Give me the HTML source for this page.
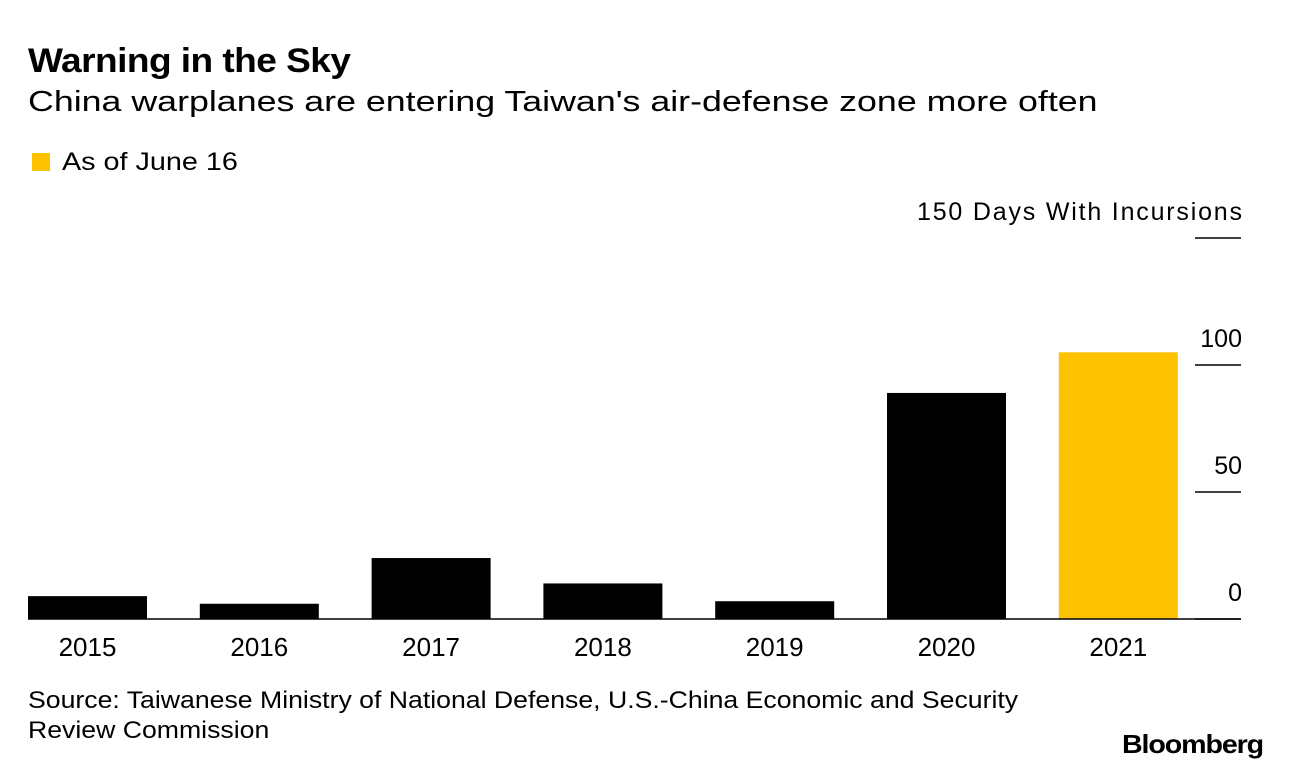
<!DOCTYPE html>
<html><head><meta charset="utf-8"><style>
body{margin:0;background:#fff;font-family:"Liberation Sans",sans-serif;color:#000;width:1289px;height:770px;overflow:hidden;position:relative}
.t{position:absolute;white-space:nowrap;transform-origin:0 0}
</style></head><body>
<div class="t" style="left:28px;top:42px;font-size:34px;font-weight:bold;letter-spacing:-0.5px;transform:scaleX(1.09)">Warning in the Sky</div>
<div class="t" style="left:28px;top:86px;font-size:29px;transform:scaleX(1.233)">China warplanes are entering Taiwan's air-defense zone more often</div>
<div class="t" style="left:32px;top:153px;width:18px;height:18px;background:#fcc200"></div>
<div class="t" style="left:62px;top:148px;font-size:25px;transform:scaleX(1.15)">As of June 16</div>
<svg id="c" width="1289" height="770" style="position:absolute;left:0;top:0"></svg>
<div class="t" style="left:28px;top:686px;font-size:24px;line-height:30px;transform:scaleX(1.11)">Source: Taiwanese Ministry of National Defense, U.S.-China Economic and Security<br>Review Commission</div>
<div class="t" style="left:1122px;top:729px;font-size:26px;font-weight:bold;letter-spacing:-1px;transform:scaleX(1.1)">Bloomberg</div>
<script>
const categories=["2015","2016","2017","2018","2019","2020","2021"];
const values=[9,6,24,14,7,89,105];
const colors=["#000","#000","#000","#000","#000","#000","#fcc200"];
const ticks=[0,50,100,150];
const tickLabels=["0","50","100","150 Days With Incursions"];
const svg=document.getElementById('c');
const NS="http://www.w3.org/2000/svg";
const y0=619,pxPer=2.54;
function y(v){return y0-v*pxPer;}
function x(i){return 28+i*171.8;}
const bw=119;
function mk(tag,a){const e=document.createElementNS(NS,tag);for(const k in a)e.setAttribute(k,a[k]);svg.appendChild(e);return e;}
ticks.forEach((t,i)=>{
  const l=mk('line',{x1:1195,x2:1241,y1:y(t),y2:y(t),stroke:'#000','stroke-width':1.5});
  
  
  const tx=mk('text',{x:1242,y:y(t)-18,'text-anchor':'end','font-size':25,'font-family':'Liberation Sans, sans-serif',textLength:tickLabels[i].length>5?325:null});
  if(tickLabels[i].length<=5)tx.removeAttribute('textLength');
  tx.textContent=tickLabels[i];
  
  
});
values.forEach((v,i)=>{
  const r=mk('rect',{x:x(i),y:y(v),width:bw,height:y0-y(v),fill:colors[i]});
  
  
  const tx=mk('text',{x:x(i)+bw/2,y:656,'text-anchor':'middle','font-size':26,'font-family':'Liberation Sans, sans-serif'});
  tx.textContent=categories[i];
  
  
});
const b=mk('line',{x1:28,x2:1241,y1:y0,y2:y0,stroke:'#000','stroke-width':1.5});


</script>
</body></html>
